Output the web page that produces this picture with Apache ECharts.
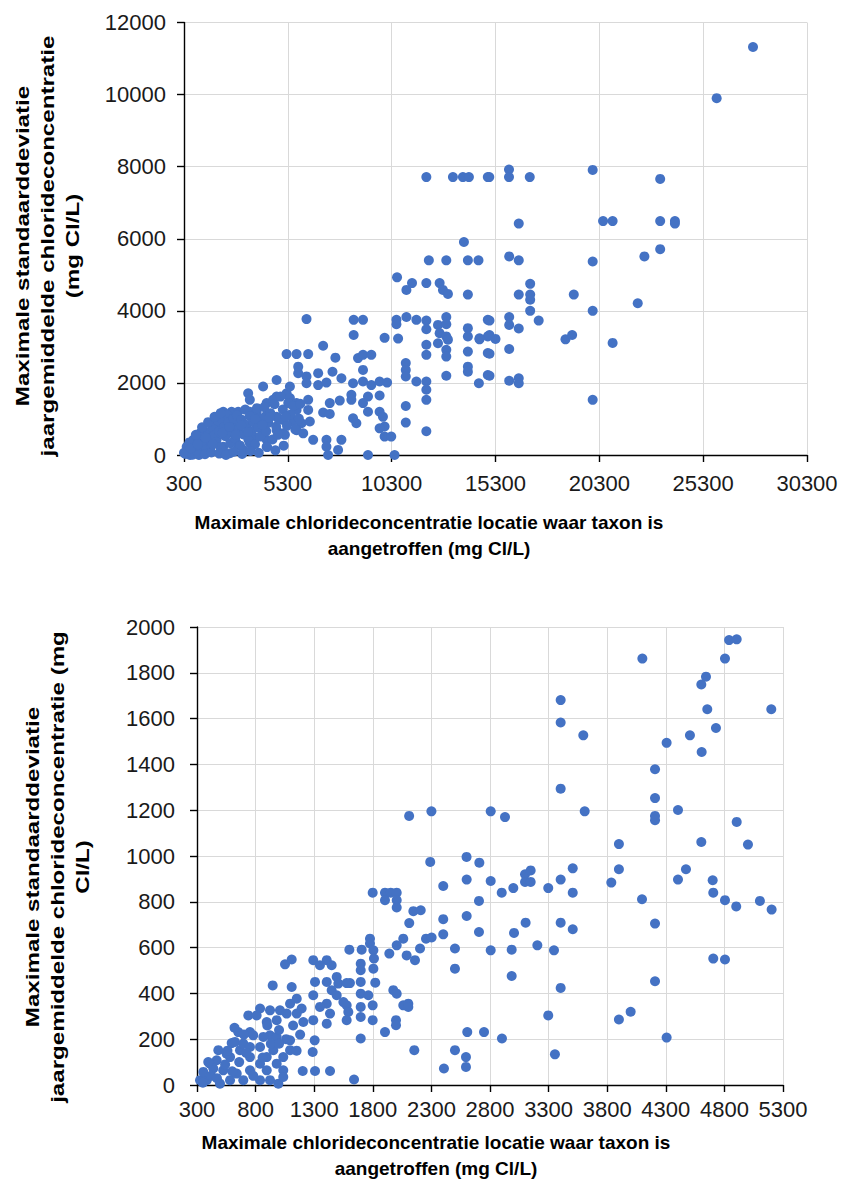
<!DOCTYPE html>
<html>
<head>
<meta charset="utf-8">
<title>Chloride scatter</title>
<script src="https://cdn.jsdelivr.net/npm/echarts@6.0.0/dist/echarts.min.js"></script>
<style>
  html, body { margin: 0; padding: 0; background: #fff; }
  #chart { width: 844px; height: 1183px; }
</style>
</head>
<body>
<div id="chart"></div>
<script>
/* data: [max chloride, max std dev] in mg Cl/L */

// top panel, full range
var topTicksX = [300, 5300, 10300, 15300, 20300, 25300, 30300];
var topTicksY = [0, 2000, 4000, 6000, 8000, 10000, 12000];
var topPoints = [
    [27700,11320],[25950,9900],
    [15000,7710],[15950,7920],[15950,7710],[16950,7710],[19980,7910],[23230,7660],
    [11970,7710],[13250,7710],[13730,7710],[14020,7710],[14930,7710],
    [16420,6420],[20480,6490],[20940,6490],[23230,6490],[23940,6490],[23940,6420],
    [13780,5910],[12090,5400],[12930,5400],[13970,5400],[14480,5400],
    [15960,5510],[16420,5400],[19980,5370],[22470,5510],[23230,5710],
    [10560,4930],[11010,4580],[11280,4770],[11970,4770],[12610,4770],[12770,4580],[13010,4470],[13970,4450],
    [16970,4750],[16420,4450],[16970,4450],[16970,4310],[19070,4450],[22150,4210],
    [16970,4000],[19980,4000],
    [6200,3770],[8470,3750],[8920,3750],[8470,3330],[9960,3250],
    [10530,3750],[10530,3630],[11010,3830],[11490,3750],[11970,3730],[11970,3490],[10610,3230],
    [12530,3610],[12930,3830],[12930,3630],[12610,3380],[12930,3290],[13010,3200],
    [11970,3060],[11970,2780],[12530,3100],[12930,2920],[12930,2730],[12930,2200],
    [13970,3520],[13970,3290],[14530,3210],[13970,2870],[13970,2450],[13970,2310],[14500,1990],
    [14930,3750],[14930,3290],[14930,2830],[14930,2220],
    [15010,3730],[15960,3830],[15960,3610],[16420,3510],[17380,3730],[14530,3240],[15010,3330],
    [15300,3220],[18670,3210],[18990,3330],[20940,3110],
    [15010,2810],[15960,2940],[15010,2200],[15960,2060],[16420,2130],[16420,1990],[19980,1530],
    [5240,2800],[5720,2800],[6280,2800],[7000,3030],[7590,2700],
    [5800,2450],[5800,2270],[6200,2180],[6200,1990],[6760,2270],[7450,2310],[7880,2130],[6760,1940],[7160,2010],
    [8680,2690],[8920,2780],[9320,2780],[8920,2360],
    [8440,1990],[8920,2040],[9320,1940],[9720,2040],[10080,2010],
    [10980,2550],[10980,2360],[10980,2180],[11490,2040],[11970,2040],[11970,1810],[11970,1530],
    [10980,1360],[10980,900],[11970,660],
    [8360,1670],[9160,1620],[9720,1650],[7800,1510],[7320,1440],
    [8360,1530],[8920,1440],[9160,1200],[9720,1200],
    [8440,1020],[8600,880],[9880,1060],[9960,790],[9720,740],[9960,510],[10280,510],
    [7000,1180],[7320,1140],[6520,420],[7160,420],[7160,230],[7880,420],[7720,140],
    [7240,0],[9160,0],[10440,0],
    [4760,2080],[4110,1900],[5240,1710],[5400,1900],[3390,1710],[3470,1530],[4760,1620],[4280,1440],
    [4590,1530],[5400,1580],[5320,1440],[5720,1440],[5720,1250],[6280,1530],[6280,1250],
    [2190,1200],[2590,1200],[2910,1200],[3470,1200],[3800,1200],[4280,1110],[4760,1060],[5070,970],
    [5560,930],[5960,880],[6360,930],
    [5720,690],[6040,600],[4760,690],[5070,600],[4280,420],[4280,230],[3630,510],[3320,600],
    [2510,1060],[1870,880],[1630,690],[1070,600],[750,420],[430,230],[300,60],
    [1230,330],[1390,140],[910,50],[1870,420],[2190,230],[2510,50],[2830,330],[3150,140],[3470,330],
    [2350,690],[2830,790],[3150,880],[3800,790],[3950,970],[4110,690],[1550,140],[590,0],
    [450,90],[520,160],[640,60],[700,240],[780,120],[850,330],[930,190],[1000,450],[1080,100],
    [1150,280],[1250,520],[1320,360],[1400,160],[1470,640],[1540,430],[1610,260],[1700,740],
    [1760,540],[1830,360],[1920,960],[1990,650],[2060,210],[2130,1000],[2230,780],[2290,520],
    [2380,1120],[2440,900],[2530,330],[2600,620],[2680,1010],[2760,460],[2850,1100],[2920,720],
    [3000,260],[3070,980],[3160,570],[3250,1260],[3320,830],[3400,430],[3470,1080],[3560,660],
    [3640,920],[3720,300],[3810,1300],[3880,760],[3970,510],[4060,1020],[4170,1330],[4260,660],
    [4360,890],[4460,1160],[4560,430],[4660,1410],[4740,790],[4850,1010],[4950,1620],[5060,1260],
    [5160,560],[5260,810],[5430,1120],[5560,1360],[5660,710],[5830,1010],[5900,1420],
    [380,30],[720,10],[1020,0],[1310,20],[1620,70],[2000,40],[2320,0],[2700,90],[3100,30],
    [3500,110],[3900,60],[4300,220],[4700,130],[5100,260],
    [560,350],[870,560],[1170,770],[1460,910],[1770,1060],[2060,1160],
    [620,180],[960,300],[1340,480],[1690,300],[2150,620],[2480,780],[2790,560],[3060,820],
    [3380,640],[3730,1000],[4080,840],[4420,1040],[4820,560],[5200,1060]
];

// bottom panel, zoomed in on chloride up to 5300
var bottomTicksX = [300, 800, 1300, 1800, 2300, 2800, 3300, 3800, 4300, 4800, 5300];
var bottomTicksY = [0, 200, 400, 600, 800, 1000, 1200, 1400, 1600, 1800, 2000];
var bottomPoints = [
    [2110,1175],[2300,1195],[2290,974],[2600,996],
    [4100,1862],[4840,1943],[4905,1946],[4805,1862],[4643,1783],[4603,1749],[4654,1641],[5200,1641],
    [3403,1681],[3403,1583],[3596,1527],[4307,1494],[4506,1527],[4728,1559],[4606,1454],[4208,1379],
    [3403,1294],[4208,1253],
    [2806,1195],[2928,1170],[3608,1195],[4208,1175],[4208,1156],[4404,1201],[4905,1149],[3900,1052],
    [4603,1061],[5001,1050],[2709,971],
    [2601,897],[2806,891],[2900,840],[2999,860],[3099,920],[3147,937],[3099,887],[3147,887],
    [3297,860],[3403,897],[3506,946],[3506,840],[3835,884],[3900,942],[4097,811],[4404,897],[4472,942],
    [4700,894],[4705,840],[4805,807],[4901,780],[5103,804],[5203,766],
    [2601,738],[2706,804],[2706,668],[3005,664],[3104,709],[3403,709],[3506,680],[4208,705],
    [2501,596],[2501,508],[2806,588],[2985,591],[3204,610],[3346,588],[2985,476],[3403,424],[4208,453],
    [4705,552],[4805,548],
    [3297,304],[3900,286],[4000,320],[2606,231],[2749,231],[2902,203],[3354,134],[4307,207],
    [2501,152],[2595,122],[2595,79],[2407,72],
    [2401,869],[2401,724],[2401,658],
    [1799,840],[1904,840],[1953,840],[2004,840],[1904,807],[2004,807],[2004,775],[2146,759],[2209,763],
    [2111,707],[2060,639],[2004,610],[1941,574],[2254,639],[2302,644],[2203,596],[2089,566],[2160,545],
    [1776,639],[1776,618],[1600,591],[1705,591],[1805,588],[1810,552],[1805,508],[1697,530],[1697,501],
    [1821,447],[1605,445],[1697,450],
    [1697,399],[1762,392],[1799,348],[1697,341],[1577,348],[1591,319],[1577,283],[1697,297],[1799,283],
    [1697,203],[1640,24],
    [1975,414],[2004,399],[2060,348],[2103,355],[2103,341],[1998,283],[1998,261],[1904,231],[2154,152],
    [1292,545],[1407,545],[1449,523],[1349,523],[1307,450],[1407,450],[1492,472],[1506,443],[1577,445],
    [1292,392],[1407,355],[1449,414],[1492,392],[1549,362],[1349,341],[1435,312],[1407,268],[1292,283],
    [1304,195],[1287,144],[1307,61],[1202,61],[1435,61],
    [1051,527],[1108,548],[946,435],[1108,428],[1151,377],[1193,334],[1151,312],[1207,275],[1094,355],
    [838,334],[923,326],[1008,326],[1065,312],[980,283],[895,275],[738,304],[809,304],[652,231],[752,231],
    [596,183],
    [923,217],[980,210],[1094,195],[1094,152],[1036,122],[951,152],[1036,64],[994,6],[1036,35],[923,21],
    [838,93],[752,122],[667,152],[582,122],[468,108],[411,93],[524,64],[639,50],[752,64],[838,21],
    [695,21],[582,21],[496,6],[383,21],[326,21],
    [439,72],[354,57],[396,100],[482,152],[553,137],[624,188],[695,181],[752,166],[838,166],[866,210],
    [780,217],[895,122],[980,93],[895,64],
    [350,10],[420,40],[470,30],[540,90],[600,60],[660,100],[720,140],[780,40],[860,120],[930,180],
    [1000,240],[1060,200],[1120,260],[1180,220],[560,150],[700,220],[620,250],[900,260],[1000,180],[1150,150]
];

var xTitle = 'Maximale chlorideconcentratie locatie waar taxon is\naangetroffen (mg Cl/L)';
var yTitleTop = 'Maximale standaarddeviatie\njaargemiddelde chlorideconcentratie\n(mg Cl/L)';
var yTitleBottom = 'Maximale standaarddeviatie\njaargemiddelde chlorideconcentratie (mg\nCl/L)';

var ChartOper = function () {

    var FONT = '"Liberation Sans", Arial, sans-serif';
    var DOT = '#4472c4';

    // the x axes start at 300, so shift by the first tick to keep min a multiple of interval
    var shift = function (points, offset) {
        return points.map(function (p) { return [p[0] - offset, p[1]]; });
    };

    var valueAxis = function (gridIndex, ticks, offset, labelMargin) {
        var step = ticks[1] - ticks[0];
        return {
            type: 'value',
            gridIndex: gridIndex,
            min: ticks[0] - offset,
            max: ticks[ticks.length - 1] - offset,
            interval: step,
            axisLine: { show: true, onZero: false, lineStyle: { color: '#000', width: 1.4 } },
            axisTick: { show: true, length: 7, lineStyle: { color: '#000', width: 1.4 } },
            splitLine: { show: true, lineStyle: { color: '#d9d9d9', width: 1 } },
            axisLabel: {
                margin: labelMargin,
                color: '#1a1a1a',
                fontSize: 22,
                fontFamily: FONT,
                formatter: function (v) { return String(v + offset); }
            }
        };
    };

    var titleText = function (text, x, y, rotated) {
        var el = {
            type: 'text',
            x: x,
            y: y,
            style: {
                text: text,
                font: 'bold 19px ' + FONT,
                fill: '#000',
                align: 'center',
                verticalAlign: 'middle',
                lineHeight: rotated ? 25 : 26
            }
        };
        if (rotated) {
            // the reference is stretched along its vertical titles
            el.rotation = Math.PI / 2;
            el.scaleX = 1.27;
        }
        return el;
    };

    var getOption = function () {
        return {
            animation: false,
            grid: [
                { left: 184, top: 22.5, width: 623, height: 432.5 },
                { left: 197, top: 627, width: 586, height: 458 }
            ],
            xAxis: [
                valueAxis(0, topTicksX, topTicksX[0], 17),
                valueAxis(1, bottomTicksX, bottomTicksX[0], 13)
            ],
            yAxis: [
                valueAxis(0, topTicksY, 0, 18),
                valueAxis(1, bottomTicksY, 0, 22)
            ],
            series: [
                {
                    type: 'scatter',
                    xAxisIndex: 0,
                    yAxisIndex: 0,
                    symbolSize: 10,
                    itemStyle: { color: DOT, opacity: 1 },
                    data: shift(topPoints, topTicksX[0])
                },
                {
                    type: 'scatter',
                    xAxisIndex: 1,
                    yAxisIndex: 1,
                    symbolSize: 10,
                    itemStyle: { color: DOT, opacity: 1 },
                    data: shift(bottomPoints, bottomTicksX[0])
                }
            ],
            graphic: [
                titleText(xTitle, 429, 535, false),
                titleText(xTitle, 436, 1155, false),
                titleText(yTitleTop, 47, 246, true),
                titleText(yTitleBottom, 57, 867, true)
            ]
        };
    };

    var init = function () {
        var myChart = echarts.init(document.getElementById('chart'), null, { renderer: 'svg' });
        myChart.setOption(getOption());
    };

    return {
        init: function () {
            init();
        }
    };
}();

ChartOper.init();
</script>
</body>
</html>
